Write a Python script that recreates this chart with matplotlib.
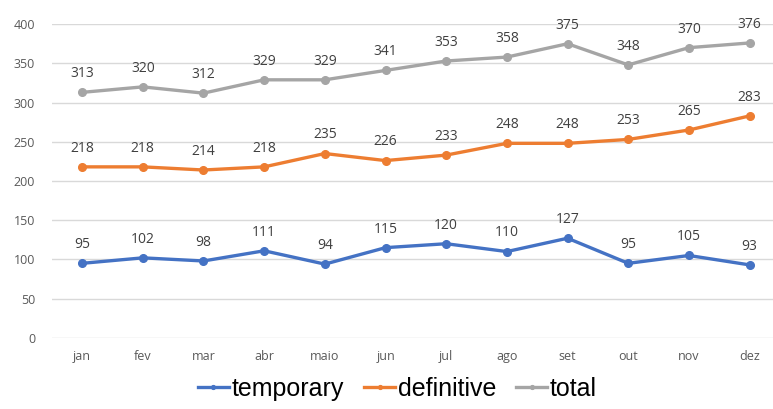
import matplotlib.pyplot as plt

months = ['jan', 'fev', 'mar', 'abr', 'maio', 'jun', 'jul', 'ago', 'set', 'out', 'nov', 'dez']
temporary = [95, 102, 98, 111, 94, 115, 120, 110, 127, 95, 105, 93]
definitive = [218, 218, 214, 218, 235, 226, 233, 248, 248, 253, 265, 283]
total = [313, 320, 312, 329, 329, 341, 353, 358, 375, 348, 370, 376]

series = [
    ('temporary', temporary, '#4472C4'),
    ('definitive', definitive, '#ED7D31'),
    ('total', total, '#A5A5A5'),
]

plt.rcParams['font.family'] = ['Open Sans', 'DejaVu Sans']

fig = plt.figure(figsize=(7.73, 4.09), dpi=100)
ax = fig.add_axes([0.067, 0.174, 0.942, 0.767])

x = range(len(months))
for name, vals, color in series:
    ax.plot(x, vals, color=color, lw=2.4, marker='o', ms=5.5, label=name)
    for xi, v in zip(x, vals):
        ax.annotate(str(v), (xi, v), xytext=(0, 8), textcoords='offset points',
                    ha='center', va='bottom', fontsize=10, color='#404040')

ax.set_xlim(-0.5, len(months) - 0.5)
ax.set_ylim(0, 400)
ax.set_yticks(range(0, 401, 50))
ax.set_xticks(list(x))
ax.set_xticklabels(months)
ax.tick_params(length=0, labelsize=9, labelcolor='#595959')
ax.tick_params(axis='x', pad=9)
ax.tick_params(axis='y', pad=12)
ax.grid(axis='y', color='#D9D9D9', lw=1)
ax.set_axisbelow(True)
for s in ax.spines.values():
    s.set_visible(False)

fig.legend(loc='lower center', bbox_to_anchor=(0.514, -0.035), ncol=3, frameon=False,
           prop={'family': 'Liberation Sans', 'size': 18},
           handlelength=1.25, handletextpad=0.1, columnspacing=0.8,
           markerscale=0.5)

fig.savefig('out.png', dpi=100)
